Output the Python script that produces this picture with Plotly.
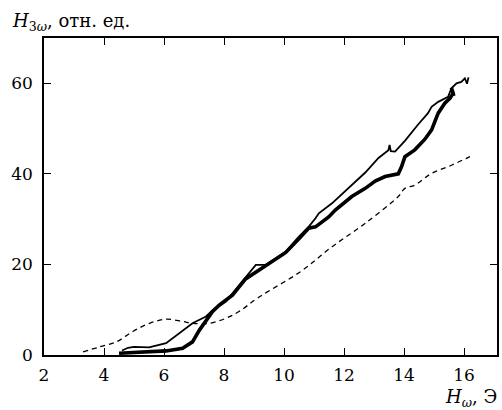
import plotly.graph_objects as go

# Thick solid curve
thick_x = [4.5, 5.0, 5.52, 6.07, 6.62, 6.95, 7.18, 7.4, 7.62, 7.84, 8.28, 8.72, 9.17, 9.39,
           10.05, 10.49, 10.82, 11.05, 11.49, 11.71, 12.26, 12.71, 13.04, 13.37, 13.81, 13.92,
           14.03, 14.36, 14.69, 14.92, 15.14, 15.36, 15.53, 15.64, 15.58, 15.66]
thick_y = [0.4, 0.6, 0.7, 0.9, 1.5, 2.9, 5.5, 7.7, 9.6, 11.0, 13.2, 16.8, 18.8, 19.9,
           22.6, 25.6, 28.0, 28.3, 30.5, 32.0, 35.0, 36.8, 38.4, 39.4, 40.0, 41.6,
           43.8, 45.3, 47.6, 49.7, 53.4, 55.6, 56.7, 57.8, 59.0, 57.2]

# Thin solid curve
thin_x = [4.6, 4.8, 5.0, 5.5, 6.07, 6.5, 6.95, 7.4, 7.62, 8.06, 8.72, 9.06, 9.39, 10.05,
          10.49, 10.82, 11.05, 11.16, 11.6, 12.2, 12.71, 13.15, 13.48, 13.52, 13.56, 13.7,
          14.03, 14.47, 14.8, 14.92, 15.14, 15.47, 15.58, 15.75, 15.91, 16.03, 16.1, 16.15]
thin_y = [1.0, 1.6, 1.8, 1.7, 2.6, 4.8, 7.0, 8.5, 9.9, 11.8, 17.3, 19.9, 19.9, 22.8,
          26.1, 28.3, 30.2, 31.3, 33.5, 37.2, 40.3, 43.5, 45.2, 46.4, 45.0, 44.9,
          47.3, 50.9, 53.4, 54.8, 55.9, 57.0, 58.9, 60.0, 60.3, 61.1, 59.9, 61.3]

# Dashed curve
dash_x = [3.3, 3.86, 4.41, 4.96, 5.52, 6.07, 6.62, 6.95, 7.51, 8.06, 8.5, 9.17, 10.55,
          11.6, 12.71, 13.81, 14.03, 14.36, 14.92, 15.58, 16.13, 16.2]
dash_y = [0.7, 1.8, 2.9, 5.2, 7.0, 7.9, 7.4, 7.0, 7.0, 8.1, 9.6, 12.8, 18.4,
          23.9, 29.1, 35.0, 36.8, 37.5, 40.1, 41.9, 43.6, 43.8]

x_ticks = [2, 4, 6, 8, 10, 12, 14, 16]
y_ticks = [0, 20, 40, 60]

FONT = "'DejaVu Serif', 'Liberation Serif', serif"

fig = go.Figure()
fig.add_trace(go.Scatter(x=dash_x, y=dash_y, mode="lines", line_shape="spline",
                         line=dict(color="black", width=1.3, dash="5px,4px"), showlegend=False))
fig.add_trace(go.Scatter(x=thin_x, y=thin_y, mode="lines",
                         line=dict(color="black", width=1.8), showlegend=False))
fig.add_trace(go.Scatter(x=thick_x, y=thick_y, mode="lines",
                         line=dict(color="black", width=3.6), showlegend=False))

axis_common = dict(showgrid=False, zeroline=False, showline=True, linecolor="black",
                   linewidth=1.5, mirror="ticks", ticks="inside", ticklen=7,
                   tickwidth=1.2, tickcolor="black",
                   tickfont=dict(family=FONT, size=17, color="black"))

fig.update_layout(
    width=502, height=410,
    margin=dict(l=44, r=3, t=38, b=55),
    paper_bgcolor="white", plot_bgcolor="white",
    font=dict(family=FONT, color="black"),
    xaxis=dict(range=[2, 17.1], tickvals=x_ticks, ticklabelstandoff=4, **axis_common),
    yaxis=dict(range=[0, 70], tickvals=y_ticks, ticklabelstandoff=6, **axis_common),
    annotations=[
        dict(text="<i>H</i><sub>3<i>ω</i></sub>, отн. ед.", xref="paper", yref="paper",
             x=-34/455, y=1 + 16/317, xanchor="left", yanchor="middle", showarrow=False,
             font=dict(family=FONT, size=18, color="black")),
        dict(text="<i>H</i><sub><i>ω</i></sub>, Э", xref="paper", yref="paper",
             x=1 + 2/455, y=-43/317, xanchor="right", yanchor="middle", showarrow=False,
             font=dict(family=FONT, size=18, color="black")),
    ],
)

fig.write_html("out.html")
